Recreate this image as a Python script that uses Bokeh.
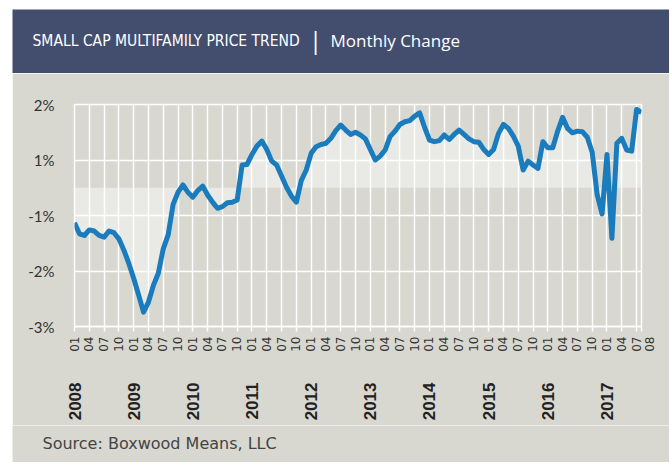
import math
from bokeh.plotting import figure
from bokeh.models import Range1d, FixedTicker, Spacer, LinearAxis
from bokeh.layouts import column, row
from bokeh.embed import file_html
from bokeh.resources import INLINE
from bokeh.core.properties import value

# ---------------- data ----------------
title_main = "SMALL CAP MULTIFAMILY PRICE TREND"
title_sub = "Monthly Change"
source_text = "Source: Boxwood Means, LLC"

years = [2008, 2009, 2010, 2011, 2012, 2013, 2014, 2015, 2016, 2017]
month_labels = ["01", "04", "07", "10"]
last_month_label = "08"

# monthly change (%), 2008-01 .. 2017-08
values = [
    -0.63, -0.83, -0.86, -0.76, -0.78, -0.86, -0.89, -0.78, -0.81, -0.92,   # 2008-01..10
    -1.12, -1.36, -1.63, -1.93, -2.24, -2.06, -1.76, -1.54, -1.10, -0.85,   # ..2009-08
    -0.30, -0.08, 0.05, -0.08, -0.17, -0.05, 0.03, -0.13, -0.26, -0.37,     # ..2010-06
    -0.34, -0.27, -0.26, -0.22, 0.41, 0.42, 0.60, 0.75, 0.84, 0.69,         # ..2011-04
    0.48, 0.41, 0.21, 0.01, -0.15, -0.26, 0.13, 0.32, 0.62, 0.74,           # ..2012-02
    0.78, 0.80, 0.89, 1.03, 1.13, 1.04, 0.96, 1.00, 0.95, 0.88,             # ..2012-12
    0.69, 0.50, 0.57, 0.68, 0.92, 1.02, 1.14, 1.19, 1.21, 1.29,             # ..2013-10
    1.35, 1.09, 0.86, 0.83, 0.85, 0.95, 0.87, 0.96, 1.04, 0.96,             # ..2014-08
    0.88, 0.83, 0.82, 0.69, 0.60, 0.69, 0.98, 1.14, 1.07, 0.93,             # ..2015-06
    0.75, 0.32, 0.48, 0.41, 0.35, 0.83, 0.72, 0.72, 1.02, 1.27,             # ..2016-04
    1.07, 0.99, 1.02, 1.01, 0.91, 0.64, -0.12, -0.47, 0.60, -0.91,          # ..2017-02
    0.80, 0.89, 0.68, 0.66, 1.41, 1.36,                                     # ..2017-08
]
month_index = list(range(len(values)))

y_ticks = [1.5, 0.5, -0.5, -1.5, -2.5]
y_tick_labels = ["2%", "1%", "-1%", "-2%", "-3%"]

# ---------------- style ----------------
BG = "#d8d8d0"
NAVY = "#434e6e"
LINE = "#1a7bbd"
TEXT = "#333333"
W = 657


def text_strip(height, fill):
    f = figure(width=W, height=height, x_range=Range1d(0, W), y_range=Range1d(0, height),
               output_backend="svg", toolbar_location=None, min_border=0)
    f.frame_align = False
    f.axis.visible = False
    f.grid.visible = False
    f.outline_line_color = None
    f.background_fill_color = fill
    f.border_fill_color = fill
    return f


# ---------------- header ----------------
hdr = text_strip(64, NAVY)
hdr.text(x=[20], y=[33], text=[title_main], text_color="white",
         text_font=value("DejaVu Sans Condensed, Liberation Sans, sans-serif"),
         text_font_size="15.5px", text_baseline="middle", text_align="left")
hdr.text(x=[303], y=[34], text=["|"], text_color="white",
         text_font=value("Open Sans"), text_font_size="24px",
         text_baseline="middle", text_align="center")
hdr.text(x=[318], y=[33], text=[title_sub], text_color="white",
         text_font=value("Open Sans"), text_font_size="17px",
         text_baseline="middle", text_align="left")

# ---------------- main chart ----------------
n = len(values)
last = n - 1
p = figure(width=W, height=352, x_range=Range1d(0, last), y_range=Range1d(-2.5, 1.5),
           output_backend="svg", toolbar_location=None,
           min_border_left=62, min_border_right=28, min_border_top=31, min_border_bottom=99)
p.frame_align = False
p.background_fill_color = BG
p.border_fill_color = BG
p.outline_line_color = "white"
p.outline_line_width = 1.5

month_ticks = list(range(0, last, 3))
axis_ticks = month_ticks + [last]
overrides = {t: month_labels[(t % 12) // 3] for t in month_ticks}
overrides[last] = "\n" + last_month_label
p.xaxis.ticker = FixedTicker(ticks=axis_ticks)
p.xaxis.major_label_overrides = overrides
p.xaxis.major_label_orientation = math.pi / 2
p.xaxis.major_label_text_font = "DejaVu Sans"
p.xaxis.major_label_text_font_size = "12px"
p.xaxis.major_label_text_color = TEXT
p.xaxis.axis_line_color = "white"
p.xaxis.axis_line_width = 1.5
p.xaxis.major_tick_line_color = "white"
p.xaxis.major_tick_line_width = 1.5
p.xaxis.major_tick_out = 5
p.xaxis.major_tick_in = 0
p.xaxis.minor_tick_line_color = None
p.xaxis.major_label_standoff = 5

year_ticks = [12 * k for k in range(len(years))]
yax = LinearAxis(ticker=FixedTicker(ticks=year_ticks),
                 major_label_overrides={t: str(years[t // 12]) for t in year_ticks})
yax.major_label_orientation = math.pi / 2
yax.major_label_text_font = "Liberation Sans"
yax.major_label_text_font_style = "bold"
yax.major_label_text_font_size = "17px"
yax.major_label_text_color = "#222222"
yax.axis_line_color = None
yax.major_tick_line_color = None
yax.minor_tick_line_color = None
yax.major_label_standoff = 22
p.add_layout(yax, "below")

p.yaxis.ticker = FixedTicker(ticks=y_ticks)
p.yaxis.major_label_overrides = dict(zip(y_ticks, y_tick_labels))
p.yaxis.axis_line_color = None
p.yaxis.major_tick_line_color = None
p.yaxis.minor_tick_line_color = None
p.yaxis.major_label_standoff = 14
p.yaxis.major_label_text_font = "Lato"
p.yaxis.major_label_text_font_size = "15px"
p.yaxis.major_label_text_color = TEXT

p.xgrid.ticker = FixedTicker(ticks=month_ticks)
p.ygrid.ticker = FixedTicker(ticks=y_ticks)
p.grid.grid_line_color = "white"
p.grid.grid_line_width = 1.5

p.varea(x=month_index, y1=[0] * n, y2=values, fill_color="white", fill_alpha=0.45)
p.line(x=month_index, y=values, line_color=LINE, line_width=5, line_join="round")

# ---------------- source ----------------
src = text_strip(37, BG)
src.text(x=[30], y=[19], text=[source_text], text_color="#444444",
         text_font=value("DejaVu Sans"), text_font_size="16px",
         text_baseline="middle", text_align="left")

layout = row(Spacer(width=12, height=10),
             column(Spacer(width=10, height=9), hdr, p, src))
open("out.html", "w").write(file_html(layout, INLINE))
